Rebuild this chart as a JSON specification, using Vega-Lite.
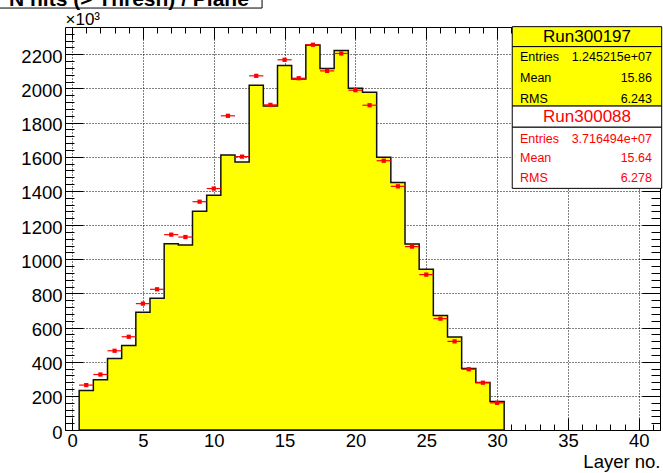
{
  "$schema": "https://vega.github.io/schema/vega-lite/v6.json",
  "width": 595,
  "height": 403,
  "autosize": {"type": "none"},
  "padding": {"left": 65, "top": 27, "right": 3, "bottom": 43},
  "background": "white",
  "config": {
    "view": {"stroke": "black", "strokeWidth": 1},
    "font": "Liberation Sans",
    "axis": {
      "domain": false,
      "grid": false,
      "tickColor": "black",
      "tickWidth": 1,
      "labelColor": "black",
      "labelFont": "Liberation Sans",
      "titleFont": "Liberation Sans",
      "titleColor": "black"
    }
  },
  "data": {
    "values": [
      {"layer": 1, "lo": 0.5, "hi": 1.5, "h": 231, "r": 263},
      {"layer": 2, "lo": 1.5, "hi": 2.5, "h": 294, "r": 325},
      {"layer": 3, "lo": 2.5, "hi": 3.5, "h": 419, "r": 464},
      {"layer": 4, "lo": 3.5, "hi": 4.5, "h": 495, "r": 546},
      {"layer": 5, "lo": 4.5, "hi": 5.5, "h": 690, "r": 740},
      {"layer": 6, "lo": 5.5, "hi": 6.5, "h": 771, "r": 824},
      {"layer": 7, "lo": 6.5, "hi": 7.5, "h": 1091, "r": 1144},
      {"layer": 8, "lo": 7.5, "hi": 8.5, "h": 1083, "r": 1130},
      {"layer": 9, "lo": 8.5, "hi": 9.5, "h": 1281, "r": 1337},
      {"layer": 10, "lo": 9.5, "hi": 10.5, "h": 1375, "r": 1414},
      {"layer": 11, "lo": 10.5, "hi": 11.5, "h": 1611, "r": 1840},
      {"layer": 12, "lo": 11.5, "hi": 12.5, "h": 1570, "r": 1601},
      {"layer": 13, "lo": 12.5, "hi": 13.5, "h": 2019, "r": 2074},
      {"layer": 14, "lo": 13.5, "hi": 14.5, "h": 1898, "r": 1904},
      {"layer": 15, "lo": 14.5, "hi": 15.5, "h": 2135, "r": 2168},
      {"layer": 16, "lo": 15.5, "hi": 16.5, "h": 2055, "r": 2060},
      {"layer": 17, "lo": 16.5, "hi": 17.5, "h": 2254, "r": 2256},
      {"layer": 18, "lo": 17.5, "hi": 18.5, "h": 2117, "r": 2103},
      {"layer": 19, "lo": 18.5, "hi": 19.5, "h": 2223, "r": 2205},
      {"layer": 20, "lo": 19.5, "hi": 20.5, "h": 2002, "r": 1990},
      {"layer": 21, "lo": 20.5, "hi": 21.5, "h": 1978, "r": 1902},
      {"layer": 22, "lo": 21.5, "hi": 22.5, "h": 1597, "r": 1577},
      {"layer": 23, "lo": 22.5, "hi": 23.5, "h": 1449, "r": 1427},
      {"layer": 24, "lo": 23.5, "hi": 24.5, "h": 1089, "r": 1074},
      {"layer": 25, "lo": 24.5, "hi": 25.5, "h": 941, "r": 910},
      {"layer": 26, "lo": 25.5, "hi": 26.5, "h": 671, "r": 652},
      {"layer": 27, "lo": 26.5, "hi": 27.5, "h": 544, "r": 519},
      {"layer": 28, "lo": 27.5, "hi": 28.5, "h": 360, "r": 356},
      {"layer": 29, "lo": 28.5, "hi": 29.5, "h": 278, "r": 277},
      {"layer": 30, "lo": 29.5, "hi": 30.5, "h": 167, "r": 159}
    ]
  },
  "resolve": {"axis": {"x": "independent", "y": "independent"}},
  "layer": [
    {
      "transform": [{"fold": ["lo", "hi"], "as": ["side", "edge"]}],
      "mark": {"type": "area", "interpolate": "linear", "fill": "#ffff00", "fillOpacity": 1, "stroke": "#111111", "strokeWidth": 1.5},
      "encoding": {
        "x": {
          "field": "edge", "type": "quantitative",
          "scale": {"domain": [-0.5, 41.5], "nice": false, "zero": false},
          "axis": {"orient": "bottom", "values": [0, 5, 10, 15, 20, 25, 30, 35, 40], "grid": true, "gridDash": [1, 2], "gridColor": "black", "gridWidth": 1, "ticks": false, "labels": false, "title": null}
        },
        "y": {
          "field": "h", "type": "quantitative", "stack": null,
          "scale": {"domain": [0, 2360], "nice": false, "zero": false},
          "axis": {"orient": "left", "values": [200, 400, 600, 800, 1000, 1200, 1400, 1600, 1800, 2000, 2200], "grid": true, "gridDash": [1, 2], "gridColor": "black", "gridWidth": 1, "ticks": false, "labels": false, "title": null}
        }
      }
    },
    {
      "mark": {"type": "rule", "color": "#ff0000", "strokeWidth": 1.2},
      "encoding": {
        "x": {
          "field": "lo", "type": "quantitative",
          "scale": {"domain": [-0.5, 41.5], "nice": false, "zero": false},
          "axis": {
            "orient": "bottom", "values": [0, 5, 10, 15, 20, 25, 30, 35, 40],
            "ticks": true, "tickSize": -12, "labels": true, "labelPadding": 13, "labelFontSize": 18.5,
            "labelFlush": false, "labelOverlap": false, "format": "d",
            "title": "Layer no.", "titleX": 595, "titleY": 37, "titleAlign": "right", "titleBaseline": "alphabetic",
            "titleFontSize": 18.5, "titleFontWeight": "normal"
          }
        },
        "x2": {"field": "hi"},
        "y": {
          "field": "r", "type": "quantitative",
          "scale": {"domain": [0, 2360], "nice": false, "zero": false},
          "axis": {
            "orient": "left", "values": [0, 200, 400, 600, 800, 1000, 1200, 1400, 1600, 1800, 2000, 2200],
            "ticks": true, "tickSize": -18, "labels": true, "labelPadding": 21, "labelOffset": 2, "labelFontSize": 18.5,
            "labelFlush": false, "labelOverlap": false, "format": "d",
            "title": "×10³", "titleAngle": 0, "titleX": 0, "titleY": -3, "titleAlign": "left", "titleBaseline": "alphabetic",
            "titleFontSize": 17, "titleFontWeight": "normal"
          }
        }
      }
    },
    {
      "mark": {"type": "square", "color": "#ff0000", "size": 18, "opacity": 1},
      "encoding": {
        "x": {
          "field": "layer", "type": "quantitative",
          "scale": {"domain": [-0.5, 41.5], "nice": false, "zero": false},
          "axis": {"orient": "bottom", "values": [0, 1, 2, 3, 4, 5, 6, 7, 8, 9, 10, 11, 12, 13, 14, 15, 16, 17, 18, 19, 20, 21, 22, 23, 24, 25, 26, 27, 28, 29, 30, 31, 32, 33, 34, 35, 36, 37, 38, 39, 40, 41], "ticks": true, "tickSize": -6, "labels": false, "title": null}
        },
        "y": {
          "field": "r", "type": "quantitative",
          "scale": {"domain": [0, 2360], "nice": false, "zero": false},
          "axis": {"orient": "left", "values": [0, 40, 80, 120, 160, 200, 240, 280, 320, 360, 400, 440, 480, 520, 560, 600, 640, 680, 720, 760, 800, 840, 880, 920, 960, 1000, 1040, 1080, 1120, 1160, 1200, 1240, 1280, 1320, 1360, 1400, 1440, 1480, 1520, 1560, 1600, 1640, 1680, 1720, 1760, 1800, 1840, 1880, 1920, 1960, 2000, 2040, 2080, 2120, 2160, 2200, 2240, 2280, 2320], "ticks": true, "tickSize": -9, "labels": false, "title": null}
        }
      }
    },
    {
      "data": {"values": [{}]},
      "mark": {"type": "rect", "fill": "#ffff00", "stroke": "black", "strokeWidth": 1},
      "encoding": {
        "x": {"datum": 31.07, "type": "quantitative", "scale": {"domain": [-0.5, 41.5], "nice": false, "zero": false},
          "axis": {"orient": "top", "values": [0, 5, 10, 15, 20, 25, 30, 35, 40], "ticks": true, "tickSize": -12, "labels": false, "title": null}},
        "x2": {"datum": 41.62},
        "y": {"datum": 2362, "type": "quantitative", "scale": {"domain": [0, 2360], "nice": false, "zero": false},
          "axis": {"orient": "right", "values": [0, 200, 400, 600, 800, 1000, 1200, 1400, 1600, 1800, 2000, 2200], "ticks": true, "tickSize": -18, "labels": false, "title": null}},
        "y2": {"datum": 2245}
      }
    },
    {
      "data": {"values": [{}]},
      "mark": {"type": "rect", "fill": "#ffff00", "stroke": "black", "strokeWidth": 1},
      "encoding": {
        "x": {"datum": 31.07, "type": "quantitative", "scale": {"domain": [-0.5, 41.5], "nice": false, "zero": false},
          "axis": {"orient": "top", "values": [0, 1, 2, 3, 4, 5, 6, 7, 8, 9, 10, 11, 12, 13, 14, 15, 16, 17, 18, 19, 20, 21, 22, 23, 24, 25, 26, 27, 28, 29, 30, 31, 32, 33, 34, 35, 36, 37, 38, 39, 40, 41], "ticks": true, "tickSize": -6, "labels": false, "title": null}},
        "x2": {"datum": 41.62},
        "y": {"datum": 2245, "type": "quantitative", "scale": {"domain": [0, 2360], "nice": false, "zero": false},
          "axis": {"orient": "right", "values": [0, 40, 80, 120, 160, 200, 240, 280, 320, 360, 400, 440, 480, 520, 560, 600, 640, 680, 720, 760, 800, 840, 880, 920, 960, 1000, 1040, 1080, 1120, 1160, 1200, 1240, 1280, 1320, 1360, 1400, 1440, 1480, 1520, 1560, 1600, 1640, 1680, 1720, 1760, 1800, 1840, 1880, 1920, 1960, 2000, 2040, 2080, 2120, 2160, 2200, 2240, 2280, 2320], "ticks": true, "tickSize": -9, "labels": false, "title": null}},
        "y2": {"datum": 1897}
      }
    },
    {
      "data": {"values": [{}]},
      "mark": {"type": "rect", "fill": "white", "stroke": "black", "strokeWidth": 1},
      "encoding": {
        "x": {"datum": 31.07, "type": "quantitative", "scale": {"domain": [-0.5, 41.5], "nice": false, "zero": false}, "axis": null},
        "x2": {"datum": 41.62},
        "y": {"datum": 1897, "type": "quantitative", "scale": {"domain": [0, 2360], "nice": false, "zero": false}, "axis": null},
        "y2": {"datum": 1773}
      }
    },
    {
      "data": {"values": [{}]},
      "mark": {"type": "rect", "fill": "white", "stroke": "black", "strokeWidth": 1},
      "encoding": {
        "x": {"datum": 31.07, "type": "quantitative", "scale": {"domain": [-0.5, 41.5], "nice": false, "zero": false}, "axis": null},
        "x2": {"datum": 41.62},
        "y": {"datum": 1773, "type": "quantitative", "scale": {"domain": [0, 2360], "nice": false, "zero": false}, "axis": null},
        "y2": {"datum": 1415}
      }
    },
    {
      "data": {"values": [{}]},
      "mark": {"type": "text", "text": "Run300197", "align": "center", "baseline": "alphabetic", "font": "Liberation Sans", "fontSize": 17, "color": "black"},
      "encoding": {
        "x": {"datum": 36.35, "type": "quantitative", "scale": {"domain": [-0.5, 41.5], "nice": false, "zero": false}, "axis": null},
        "y": {"datum": 2275, "type": "quantitative", "scale": {"domain": [0, 2360], "nice": false, "zero": false}, "axis": null}
      }
    },
    {
      "data": {"values": [{}]},
      "mark": {"type": "text", "text": ["Entries", "Mean", "RMS"], "lineHeight": 21, "align": "left", "baseline": "alphabetic", "font": "Liberation Sans", "fontSize": 12.5, "color": "black"},
      "encoding": {
        "x": {"datum": 31.62, "type": "quantitative", "scale": {"domain": [-0.5, 41.5], "nice": false, "zero": false}, "axis": null},
        "y": {"datum": 2163, "type": "quantitative", "scale": {"domain": [0, 2360], "nice": false, "zero": false}, "axis": null}
      }
    },
    {
      "data": {"values": [{}]},
      "mark": {"type": "text", "text": ["1.245215e+07", "15.86", "6.243"], "lineHeight": 21, "align": "right", "baseline": "alphabetic", "font": "Liberation Sans", "fontSize": 12.5, "color": "black"},
      "encoding": {
        "x": {"datum": 40.93, "type": "quantitative", "scale": {"domain": [-0.5, 41.5], "nice": false, "zero": false}, "axis": null},
        "y": {"datum": 2163, "type": "quantitative", "scale": {"domain": [0, 2360], "nice": false, "zero": false}, "axis": null}
      }
    },
    {
      "data": {"values": [{}]},
      "mark": {"type": "text", "text": "Run300088", "align": "center", "baseline": "alphabetic", "font": "Liberation Sans", "fontSize": 17, "color": "#ff0000"},
      "encoding": {
        "x": {"datum": 36.35, "type": "quantitative", "scale": {"domain": [-0.5, 41.5], "nice": false, "zero": false}, "axis": null},
        "y": {"datum": 1805, "type": "quantitative", "scale": {"domain": [0, 2360], "nice": false, "zero": false}, "axis": null}
      }
    },
    {
      "data": {"values": [{}]},
      "mark": {"type": "text", "text": ["Entries", "Mean", "RMS"], "lineHeight": 19.5, "align": "left", "baseline": "alphabetic", "font": "Liberation Sans", "fontSize": 12.5, "color": "#ff0000"},
      "encoding": {
        "x": {"datum": 31.62, "type": "quantitative", "scale": {"domain": [-0.5, 41.5], "nice": false, "zero": false}, "axis": null},
        "y": {"datum": 1682, "type": "quantitative", "scale": {"domain": [0, 2360], "nice": false, "zero": false}, "axis": null}
      }
    },
    {
      "data": {"values": [{}]},
      "mark": {"type": "text", "text": ["3.716494e+07", "15.64", "6.278"], "lineHeight": 19.5, "align": "right", "baseline": "alphabetic", "font": "Liberation Sans", "fontSize": 12.5, "color": "#ff0000"},
      "encoding": {
        "x": {"datum": 40.93, "type": "quantitative", "scale": {"domain": [-0.5, 41.5], "nice": false, "zero": false}, "axis": null},
        "y": {"datum": 1682, "type": "quantitative", "scale": {"domain": [0, 2360], "nice": false, "zero": false}, "axis": null}
      }
    },
    {
      "data": {"values": [{}]},
      "mark": {"type": "rect", "fill": "white", "stroke": "black", "strokeWidth": 1},
      "encoding": {
        "x": {"datum": -6, "type": "quantitative", "scale": {"domain": [-0.5, 41.5], "nice": false, "zero": false}, "axis": null},
        "x2": {"datum": 13.41},
        "y": {"datum": 2700, "type": "quantitative", "scale": {"domain": [0, 2360], "nice": false, "zero": false}, "axis": null},
        "y2": {"datum": 2471}
      }
    },
    {
      "data": {"values": [{}]},
      "mark": {"type": "text", "text": "N hits (> Thresh) / Plane", "align": "left", "baseline": "alphabetic", "font": "Liberation Sans", "fontSize": 21, "fontWeight": "bold", "color": "black"},
      "encoding": {
        "x": {"datum": -4.45, "type": "quantitative", "scale": {"domain": [-0.5, 41.5], "nice": false, "zero": false}, "axis": null},
        "y": {"datum": 2483, "type": "quantitative", "scale": {"domain": [0, 2360], "nice": false, "zero": false}, "axis": null}
      }
    }
  ]
}
